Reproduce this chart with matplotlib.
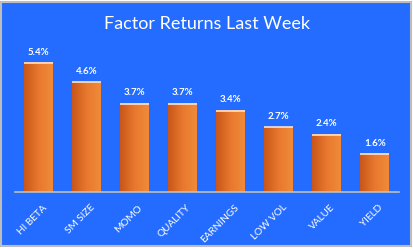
import numpy as np
import matplotlib
matplotlib.use('Agg')
import matplotlib.pyplot as plt
import matplotlib.patches as mpatches

factors = ['HI BETA', 'SM SIZE', 'MOMO', 'QUALITY', 'EARNINGS', 'LOW VOL', 'VALUE', 'YIELD']
returns = [5.4, 4.6, 3.7, 3.7, 3.4, 2.7, 2.4, 1.6]

BLUE = '#236CFF'
plt.rcParams['font.family'] = ['Lato', 'DejaVu Sans']

W, H = 414, 250
fig = plt.figure(figsize=(W / 100, H / 100), dpi=100)
fig.patch.set_facecolor('white')

# chart box with grey frame
box = mpatches.Rectangle((1.5 / W, 4 / H), 410 / W, 244.5 / H, transform=fig.transFigure,
                         facecolor=BLUE, edgecolor='#BDBDBD', linewidth=1.5, zorder=0)
fig.patches.append(box)

ax = fig.add_axes([14.7 / W, 58 / H, 384 / W, 143.4 / H])
ax.set_zorder(2)
ax.set_facecolor('none')

x = np.arange(len(factors))
bars = ax.bar(x, returns, width=0.6, color='none', edgecolor='none', zorder=2)

# horizontal orange gradient inside each bar
grad = np.linspace(0, 1, 64).reshape(1, -1)
cmap = matplotlib.colors.LinearSegmentedColormap.from_list(
    'bar', ['#C8561A', '#E8782E', '#F08A3A'])
for b in bars:
    x0, w, h = b.get_x(), b.get_width(), b.get_height()
    ax.imshow(grad, cmap=cmap, aspect='auto', extent=(x0, x0 + w, 0, h),
              interpolation='bicubic', zorder=2)
    ax.plot([x0, x0 + w], [h, h], color='#FCE2CC', lw=1.2, zorder=3,
            solid_capstyle='butt')
    ax.annotate(f'{h:.1f}%', xy=(x0 + w / 2, h), xytext=(0, 4.5),
                textcoords='offset points', ha='center', va='bottom',
                fontsize=7, fontweight='bold', color='white')

ax.set_xlim(-0.5, len(factors) - 0.5)
ax.set_ylim(0, 6)

for s in ['top', 'right', 'left']:
    ax.spines[s].set_visible(False)
ax.spines['bottom'].set_color('#BFBFBF')
ax.spines['bottom'].set_linewidth(1.2)
ax.set_yticks([])
ax.set_xticks(x)
ax.set_xticklabels([])
ax.tick_params(axis='x', length=0)

# rotated category labels, anchored just right of each bar centre
for xi, name in zip(x, factors):
    ax.annotate(name, xy=(xi, 0), xycoords=('data', 'axes fraction'),
                xytext=(2.5, -8), textcoords='offset points',
                rotation=45, rotation_mode='anchor', ha='right', va='top',
                fontsize=7.2, color='white')

fig.text(0.5, 1 - 24 / H, 'Factor Returns Last Week', ha='center', va='center',
         fontsize=13, color='white')

fig.savefig('out.png', dpi=100, facecolor='white')
